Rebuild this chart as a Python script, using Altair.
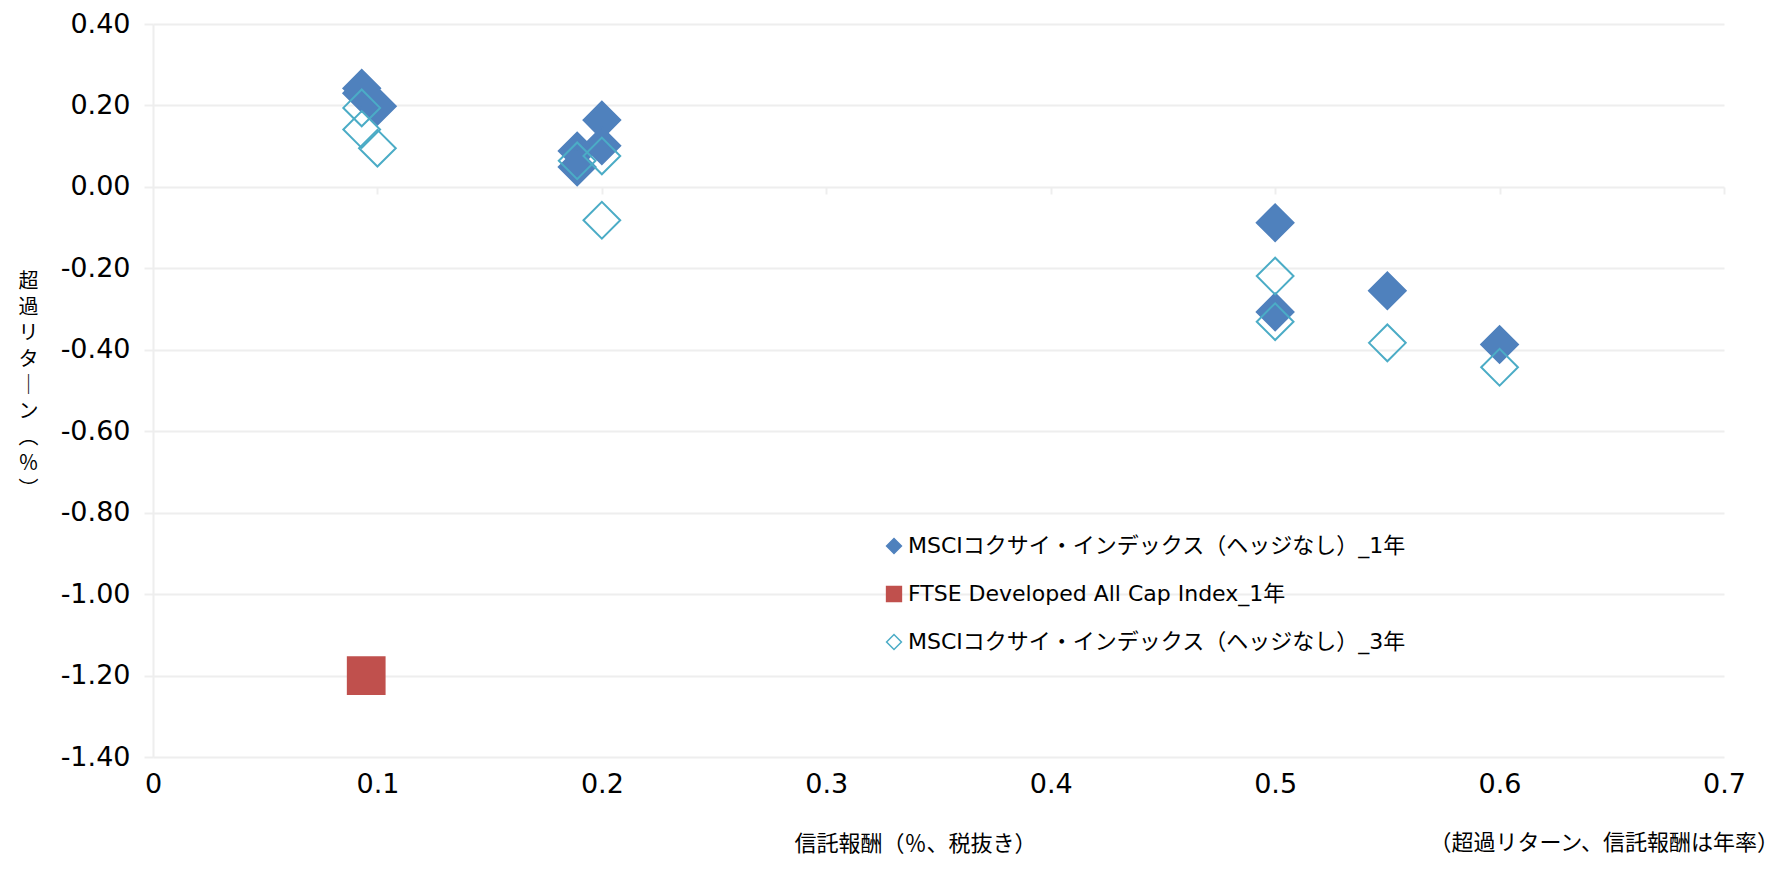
import altair as alt
import pandas as pd

S1 = "MSCIコクサイ・インデックス（ヘッジなし）_1年"
S2 = "FTSE Developed All Cap Index_1年"
S3 = "MSCIコクサイ・インデックス（ヘッジなし）_3年"
series_names = [S1, S2, S3]

# 信託報酬 (x) and 超過リターン (y)
msci1_fee = [0.093, 0.093, 0.1, 0.189, 0.189, 0.2, 0.2, 0.5, 0.5, 0.55, 0.6]
msci1_ret = [0.242, 0.230, 0.198, 0.088, 0.049, 0.164, 0.101, -0.088, -0.307, -0.255, -0.387]
ftse_fee = [0.095]
ftse_ret = [-1.20]
msci3_fee = [0.093, 0.093, 0.1, 0.189, 0.2, 0.2, 0.5, 0.5, 0.55, 0.6]
msci3_ret = [0.194, 0.141, 0.095, 0.064, 0.076, -0.082, -0.219, -0.331, -0.383, -0.443]

x_ticks = [0, 0.1, 0.2, 0.3, 0.4, 0.5, 0.6, 0.7]
x_zero_ticks = [0.1, 0.2, 0.3, 0.4, 0.5, 0.6, 0.7]
y_ticks = [-1.4, -1.2, -1.0, -0.8, -0.6, -0.4, -0.2, 0.0, 0.2, 0.4]

x_title = "信託報酬（％、税抜き）"
y_title = ["超", "過", "リ", "タ", "｜", "ン", "︵", "％", "︶"]
note = "（超過リターン、信託報酬は年率）"

fill_colors = ["#4F81BD", "#C0504D", "transparent"]
stroke_colors = ["#4F81BD", "#C0504D", "#4BACC6"]
shapes = ["diamond", "square", "diamond"]

rows = []
for f, r in zip(msci1_fee, msci1_ret):
    rows.append({"fee": f, "ret": r, "series": S1})
for f, r in zip(ftse_fee, ftse_ret):
    rows.append({"fee": f, "ret": r, "series": S2})
for f, r in zip(msci3_fee, msci3_ret):
    rows.append({"fee": f, "ret": r, "series": S3})
df = pd.DataFrame(rows)

LATIN = "DejaVu Sans, Noto Sans CJK JP"
CJK = "Noto Sans CJK JP"
GRID = "#EEEEEE"

xscale = alt.Scale(domain=[0, 0.7], nice=False, zero=False)
yscale = alt.Scale(domain=[-1.4, 0.4], nice=False, zero=False)

points = alt.Chart(df).mark_point(size=1350, strokeWidth=2, opacity=1).encode(
    x=alt.X("fee:Q", scale=xscale, axis=alt.Axis(
        orient="bottom", values=x_ticks, format="~g", labelFont=LATIN,
        labelFontSize=27, labelColor="black", labelPadding=14, labelFlush=False,
        ticks=False, domain=False, grid=False, title=x_title, titleFont=CJK,
        titleFontSize=22, titleFontWeight="normal", titleColor="black",
        titleX=762, titleY=86, titleAlign="center", titleBaseline="middle")),
    y=alt.Y("ret:Q", scale=yscale, axis=alt.Axis(
        values=y_ticks,
        labelExpr="replace(format(datum.value, '.2f'), '\u2212', '-')",
        labelFont=LATIN, labelFontSize=27, labelColor="black",
        labelPadding=14, ticks=True, tickSize=9, tickColor=GRID, tickWidth=2,
        domain=True, domainColor=GRID, domainWidth=2,
        grid=True, gridColor=GRID, gridWidth=2,
        title=y_title, titleAngle=0, titleFont=CJK, titleFontSize=20,
        titleFontWeight="normal", titleColor="black", titleLineHeight=26,
        titleX=-125, titleY=257, titleAlign="center", titleBaseline="middle")),
    shape=alt.Shape("series:N", scale=alt.Scale(domain=series_names, range=shapes)),
    fill=alt.Fill("series:N", scale=alt.Scale(domain=series_names, range=fill_colors)),
    stroke=alt.Stroke("series:N", scale=alt.Scale(domain=series_names, range=stroke_colors),
                      legend=alt.Legend(
                          orient="none", legendX=730, legendY=511, title=None,
                          labelFont=LATIN, labelFontSize=22, labelColor="black",
                          labelLimit=1000, symbolSize=220, symbolStrokeWidth=1.5,
                          rowPadding=26, labelOffset=3, padding=0)),
)

zero_axis = alt.Chart(df).mark_point(opacity=0).encode(
    x=alt.X("fee:Q", scale=xscale, axis=alt.Axis(
        orient="bottom", offset=-570, values=x_zero_ticks, labels=False,
        ticks=True, tickSize=7, tickColor=GRID, tickWidth=2, domain=False,
        grid=False, title=None)),
    y=alt.Y("ret:Q", scale=yscale),
)

note_layer = alt.Chart(pd.DataFrame({"t": [note]})).mark_text(
    align="right", baseline="middle", font=CJK, fontSize=22, color="black"
).encode(text="t:N", x=alt.value(1626), y=alt.value(819))

chart = alt.layer(points, zero_axis, note_layer).resolve_axis(
    x="independent"
).properties(
    width=1571, height=733,
    padding={"left": 145, "top": 16, "right": 57, "bottom": 99},
    autosize=alt.AutoSizeParams(type="none"),
).configure_view(stroke=None)

chart.save("out.html", embed_options={"renderer": "svg", "actions": False})
